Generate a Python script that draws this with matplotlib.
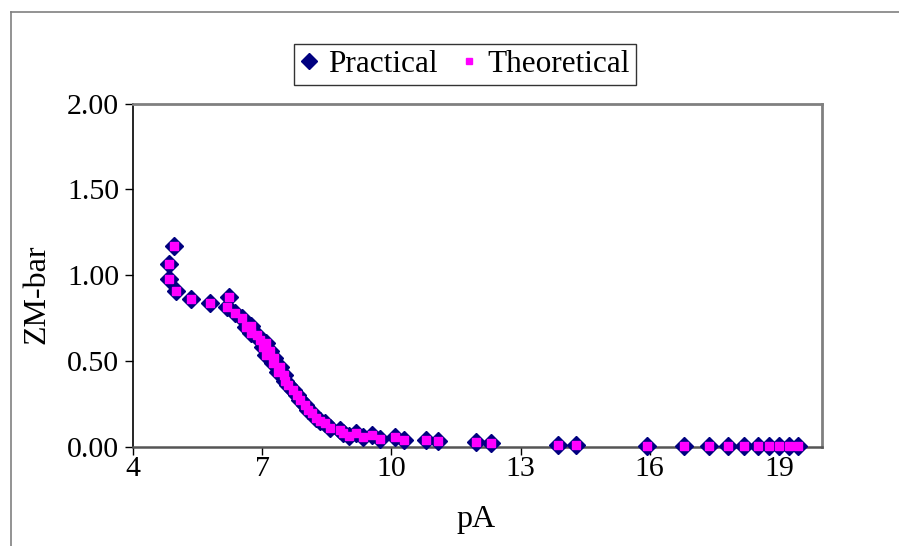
import matplotlib
matplotlib.use("Agg")
import matplotlib.pyplot as plt
from matplotlib.lines import Line2D

plt.rcParams['font.family'] = ['Liberation Serif', 'DejaVu Serif']

# pA values
pA = [4.84, 4.84, 4.96, 5.01, 5.35, 5.79, 6.19, 6.23, 6.37, 6.52, 6.62, 6.73, 6.75,
      6.87, 6.95, 7.02, 7.08, 7.10, 7.19, 7.26, 7.28, 7.37, 7.41, 7.50, 7.54,
      7.60, 7.72, 7.80, 7.87, 7.99, 8.07, 8.15, 8.26, 8.34, 8.45, 8.57, 8.80,
      8.87, 9.02, 9.17, 9.33, 9.56, 9.73, 10.08, 10.29, 10.81, 11.08, 11.97,
      12.32, 13.87, 14.28, 15.94, 16.79, 17.37, 17.81, 18.20, 18.51, 18.78,
      19.01, 19.24, 19.44]

practical = [0.975, 1.064, 1.170, 0.907, 0.860, 0.835, 0.812, 0.870, 0.777, 0.748,
             0.699, 0.661, 0.703, 0.651, 0.622, 0.583, 0.606, 0.535, 0.558, 0.487,
             0.516, 0.438, 0.467, 0.419, 0.380, 0.360, 0.331, 0.302, 0.273, 0.244,
             0.215, 0.196, 0.167, 0.148, 0.138, 0.109, 0.095, 0.080, 0.064, 0.080,
             0.056, 0.070, 0.045, 0.054, 0.041, 0.041, 0.031, 0.025, 0.021, 0.008,
             0.008, 0.006, 0.006, 0.006, 0.005, 0.005, 0.005, 0.005, 0.005, 0.005,
             0.005]

theoretical = [0.975, 1.064, 1.170, 0.907, 0.860, 0.835, 0.812, 0.870, 0.777, 0.748,
               0.699, 0.661, 0.703, 0.651, 0.622, 0.583, 0.606, 0.535, 0.558, 0.487,
               0.516, 0.438, 0.467, 0.419, 0.380, 0.360, 0.331, 0.302, 0.273, 0.244,
               0.215, 0.196, 0.167, 0.148, 0.138, 0.109, 0.095, 0.080, 0.064, 0.080,
               0.056, 0.070, 0.045, 0.054, 0.041, 0.041, 0.031, 0.025, 0.021, 0.008,
               0.008, 0.006, 0.006, 0.006, 0.005, 0.005, 0.005, 0.005, 0.005, 0.005,
               0.005]

xticks = [4, 7, 10, 13, 16, 19]
yticks = [0.0, 0.5, 1.0, 1.5, 2.0]
ytick_labels = ["0.00", "0.50", "1.00", "1.50", "2.00"]

W, H = 899, 546
fig = plt.figure(figsize=(W / 100, H / 100), dpi=100)

# outer chart border (left and top visible)
fig.add_artist(Line2D([10.5 / W, 10.5 / W], [0, 1 - 11.5 / H], transform=fig.transFigure,
                      color='#808080', lw=1.2))
fig.add_artist(Line2D([10.5 / W, 1], [1 - 11.5 / H, 1 - 11.5 / H], transform=fig.transFigure,
                      color='#808080', lw=1.2))

left, right = 133 / W, 822 / W
bottom, top = 1 - 446.7 / H, 1 - 103.5 / H
ax = fig.add_axes([left, bottom, right - left, top - bottom])

navy = '#000080'
magenta = '#FF00FF'
ax.plot(pA, practical, linestyle='none', marker='D', markersize=9.5,
        markerfacecolor=navy, markeredgecolor=navy, label='Practical', clip_on=False, zorder=3)
ax.plot(pA, theoretical, linestyle='none', marker='s', markersize=6.3,
        markerfacecolor=magenta, markeredgecolor=magenta, label='Theoretical', clip_on=False, zorder=4)

ax.set_xlim(4, 20)
ax.set_ylim(0, 2)
ax.set_xticks(xticks)
ax.set_xticklabels([str(t) for t in xticks])
ax.set_yticks(yticks)
ax.set_yticklabels(ytick_labels)
ax.tick_params(axis='both', direction='out', length=6, width=1, colors='black',
               labelsize=21.5)
ax.tick_params(axis='x', pad=0.5)
ax.tick_params(axis='y', pad=4)

for side in ['top', 'right']:
    ax.spines[side].set_color('#808080')
    ax.spines[side].set_linewidth(2)
ax.spines['left'].set_color('black')
ax.spines['left'].set_linewidth(1.2)
ax.spines['bottom'].set_color('#555555')
ax.spines['bottom'].set_linewidth(1.8)

fig.text(476 / W, 1 - 520 / H, 'pA', fontsize=23, ha='center', va='center')
fig.text(37 / W, 1 - 294 / H, 'ZM-bar', fontsize=23, ha='center', va='center', rotation=90)

handles = [
    Line2D([], [], linestyle='none', marker='D', markersize=8.5, markerfacecolor=navy,
           markeredgecolor=navy),
    Line2D([], [], linestyle='none', marker='s', markersize=5, markerfacecolor=magenta,
           markeredgecolor=magenta),
]
leg = fig.legend(handles, ['Practical', 'Theoretical'], loc='center',
                 bbox_to_anchor=(465 / W, 1 - 64.5 / H), ncol=2, fontsize=22.5,
                 frameon=True, fancybox=False, edgecolor='black', handlelength=0.6,
                 handletextpad=0.3, columnspacing=0.7, borderpad=0.2, borderaxespad=0)
leg.get_frame().set_linewidth(1.0)

fig.savefig('out.png', dpi=100)
